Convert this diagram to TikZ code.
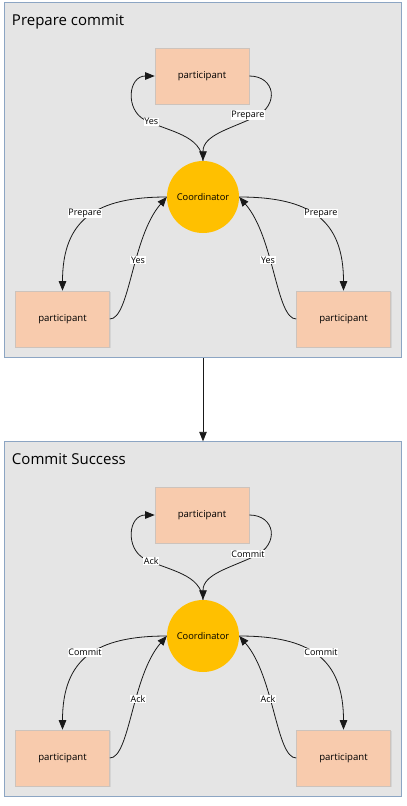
\documentclass[tikz,border=0pt]{standalone}
\usepackage{fontspec}
\setmainfont{Open Sans}
\usetikzlibrary{arrows.meta,shadows}
\definecolor{framefill}{RGB}{229,229,229}
\definecolor{frameline}{RGB}{140,165,195}
\definecolor{boxfill}{RGB}{248,203,173}
\definecolor{boxline}{RGB}{205,195,188}
\definecolor{coordfill}{RGB}{255,192,0}
\definecolor{linecol}{RGB}{25,25,25}
\tikzset{
 panelframe/.style={draw=frameline, fill=framefill, line width=0.9pt, minimum width=397.4pt, minimum height=355pt, inner sep=0pt},
 partbox/.style={draw=boxline, fill=boxfill, line width=0.6pt, minimum width=94pt, minimum height=56pt, inner sep=0pt, font=\fontsize{9.6}{11}\selectfont, drop shadow={opacity=0.15, shadow xshift=1.2pt, shadow yshift=-1.2pt}},
 coordnode/.style={circle, fill=coordfill, minimum size=72pt, inner sep=0pt, font=\fontsize{9.3}{11}\selectfont},
 flow/.style={draw=linecol, line width=0.8pt, -{Triangle[length=9.5pt,width=7.5pt]}},
 lbl/.style={fill=white, inner sep=0.7pt, font=\fontsize{9}{10}\selectfont},
 ttl/.style={anchor=base west, inner sep=0pt, font=\fontsize{15}{18}\selectfont},
}
\newcommand\twopcpanel[5]{%
\begin{scope}[yshift=#2]
 \node[panelframe] (#1frame) at (203,180.3) {};
 \node[ttl] (#1title) at (11.8,25) {#3};
 \node[partbox] (#1top) at (202,76) {participant};
 \node[coordnode] (#1coord) at (203,197) {Coordinator};
 \node[partbox] (#1left) at (62.5,319) {participant};
 \node[partbox] (#1right) at (343.5,319) {participant};
 \coordinate (#1yw) at (145,120);
 \coordinate (#1pw) at (255,117);
 \draw[flow] (#1coord.north) .. controls (201,135) and (170,132) .. (#1yw) .. controls (125,110) and (128,76) .. (#1top.west);
 \draw[flow] (#1top.east) .. controls (275,76) and (280,105) .. (#1pw) .. controls (230,129) and (203,135) .. (#1coord.north);
 \draw[flow] (#1coord.west) .. controls +(-71,0) and +(0,-71) .. (#1left.north);
 \draw[flow] (#1left.east) .. controls +(20,0) and +(-35,40) .. (#1coord.west);
 \draw[flow] (#1coord.east) .. controls +(71,0) and +(0,-71) .. (#1right.north);
 \draw[flow] (#1right.west) .. controls +(-20,0) and +(35,40) .. (#1coord.east);
 \node[lbl] (#1l1) at (151.3,121.7) {#5};
 \node[lbl] (#1l2) at (248,115.3) {#4};
 \node[lbl] (#1l3) at (85,213.5) {#4};
 \node[lbl] (#1l4) at (138,260) {#5};
 \node[lbl] (#1l5) at (321,213.5) {#4};
 \node[lbl] (#1l6) at (268,260) {#5};
\end{scope}}
\begin{document}
\begin{tikzpicture}[x=1pt,y=-1pt]
 \useasboundingbox (0,0) rectangle (407,806);
 \twopcpanel{p1}{0pt}{Prepare commit}{Prepare}{Yes}
 \twopcpanel{p2}{-439pt}{Commit Success}{Commit}{Ack}
 \draw[flow] (p1frame.south) -- (p2frame.north);
\end{tikzpicture}
\end{document}
